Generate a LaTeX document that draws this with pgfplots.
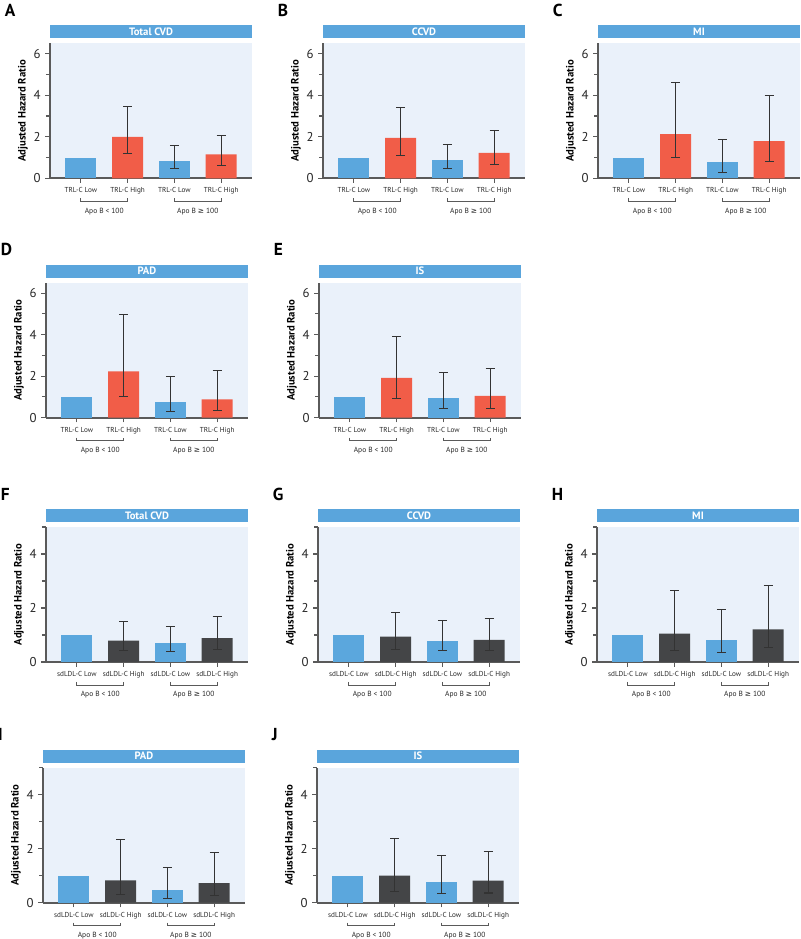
\documentclass[border=0pt]{standalone}
\usepackage{pgfplots}
\pgfplotsset{compat=1.18}
\usepackage{pgfplotstable}
\usepackage{fontspec}
\setmainfont{PT Sans}
\newfontfamily\symf{DejaVu Sans}
\definecolor{barblue}{HTML}{5BA7DD}
\definecolor{barred}{HTML}{F15D48}
\definecolor{bargray}{HTML}{444547}
\definecolor{bgblue}{HTML}{EAF1FA}
\definecolor{titleblue}{HTML}{5AA5DC}
\definecolor{axgray}{HTML}{5A5A5A}
\definecolor{errgray}{HTML}{333333}

% rows: first row = blue bar at x=2, then high bars at x=1 and x=3
\pgfplotstableread{
x y lo hi
2 0.85 0.46 1.57
1 2.00 1.20 3.44
3 1.15 0.64 2.08
}\dataA
\pgfplotstableread{
x y lo hi
2 0.88 0.48 1.65
1 1.95 1.12 3.42
3 1.22 0.66 2.30
}\dataB
\pgfplotstableread{
x y lo hi
2 0.77 0.30 1.87
1 2.13 0.99 4.61
3 1.79 0.80 4.00
}\dataC
\pgfplotstableread{
x y lo hi
2 0.77 0.29 1.96
1 2.23 1.00 4.98
3 0.88 0.35 2.28
}\dataD
\pgfplotstableread{
x y lo hi
2 0.96 0.42 2.19
1 1.91 0.93 3.89
3 1.05 0.45 2.35
}\dataE
\pgfplotstableread{
x y lo hi
2 0.69 0.38 1.31
1 0.79 0.42 1.49
3 0.88 0.47 1.68
}\dataF
\pgfplotstableread{
x y lo hi
2 0.79 0.42 1.55
1 0.94 0.48 1.85
3 0.82 0.42 1.62
}\dataG
\pgfplotstableread{
x y lo hi
2 0.82 0.35 1.96
1 1.05 0.43 2.64
3 1.21 0.53 2.82
}\dataH
\pgfplotstableread{
x y lo hi
2 0.48 0.16 1.30
1 0.83 0.31 2.33
3 0.73 0.28 1.87
}\dataI
\pgfplotstableread{
x y lo hi
2 0.76 0.33 1.75
1 1.00 0.43 2.39
3 0.82 0.36 1.90
}\dataJ

\pgfplotsset{
  panelbase/.style={
    scale only axis, width=151.5pt, height=101.25pt,
    anchor=south west,
    xmin=-0.66, xmax=3.66, ymin=0,
    axis lines*=left,
    axis line style={draw=axgray, line width=1.4pt},
    axis background/.style={fill=bgblue},
    tick align=outside,
    tick style={draw=axgray, line width=0.8pt},
    major tick length=3.5pt, minor tick length=3pt,
    xtick={0,1,2,3},
    ylabel={Adjusted Hazard Ratio},
    ylabel style={font=\fontsize{8}{9}\selectfont\bfseries, at={(axis description cs:-0.134,0.5)}, anchor=center},
    yticklabel style={font=\fontsize{9.6}{10}\selectfont, text=black!85},
    xticklabel style={font=\fontsize{5.4}{6}\selectfont, text=black!85},
    /pgf/number format/assume math mode=true,
    clip=false,
    ybar, bar width=23.25pt, bar shift=0pt,
  },
  toprow/.style={panelbase, ymax=6.5, ytick={0,2,4,6}, minor ytick={1,3,5},
    xticklabels={TRL-C Low, TRL-C High, TRL-C Low, TRL-C High}},
  botrow/.style={panelbase, ymax=5, ytick={0,2,4}, minor ytick={1,3,5},
    xticklabels={sdLDL-C Low, sdLDL-C High, sdLDL-C Low, sdLDL-C High}},
  eb/.style={
    /pgfplots/error bars/y dir=both,
    /pgfplots/error bars/y explicit,
    /pgfplots/error bars/error bar style={line width=0.8pt, draw=errgray},
    /pgfplots/error bars/error mark options={rotate=90, mark size=3.4pt, line width=0.8pt, draw=errgray},
  },
}

\newcommand{\deco}[2]{%
  \fill[titleblue] ([yshift=3.75pt]rel axis cs:0,1) rectangle ([yshift=13.5pt]rel axis cs:1,1);
  \node[font=\fontsize{8}{9}\selectfont\bfseries, text=white, inner sep=0pt] at ([yshift=8.6pt]rel axis cs:0.5,1) {#1};
  \node[font=\fontsize{13}{14}\selectfont\bfseries, anchor=north west, inner sep=0pt] at ([xshift=-34pt,yshift=29.5pt]rel axis cs:0,1) {#2};
  \draw[axgray, line width=0.6pt] ([yshift=-15pt]axis cs:0,0) -- ([yshift=-17.25pt]axis cs:0,0) -- ([yshift=-17.25pt]axis cs:1,0) -- ([yshift=-15pt]axis cs:1,0);
  \draw[axgray, line width=0.6pt] ([yshift=-15pt]axis cs:2,0) -- ([yshift=-17.25pt]axis cs:2,0) -- ([yshift=-17.25pt]axis cs:3,0) -- ([yshift=-15pt]axis cs:3,0);
  \node[font=\fontsize{5.6}{6}\selectfont, text=black!85] at ([yshift=-24.75pt]axis cs:0.5,0) {Apo B < 100};
  \node[font=\fontsize{5.6}{6}\selectfont, text=black!85] at ([yshift=-24.75pt]axis cs:2.5,0) {Apo B {\symf ≥} 100};
}

\newcommand{\panel}[6]{%
  \begin{axis}[#2, at={#1}]
    \addplot[fill=barblue, draw=none] coordinates {(0,1)};
    \addplot[fill=barblue, draw=none, skip coords between index={1}{3}, eb]
      table[x=x, y=y, y error plus expr=\thisrow{hi}-\thisrow{y}, y error minus expr=\thisrow{y}-\thisrow{lo}] {#5};
    \addplot[fill=#6, draw=none, skip coords between index={0}{1}, eb]
      table[x=x, y=y, y error plus expr=\thisrow{hi}-\thisrow{y}, y error minus expr=\thisrow{y}-\thisrow{lo}] {#5};
    \deco{#4}{#3}
  \end{axis}%
}

\begin{document}
\begin{tikzpicture}
\path[use as bounding box] (0,0) rectangle (600pt,704.25pt);
\panel{(37.5pt,570.5pt)}{toprow}{A}{Total CVD}{\dataA}{barred}
\panel{(242.25pt,570.5pt)}{toprow}{B}{CCVD}{\dataB}{barred}
\panel{(448.5pt,570.5pt)}{toprow}{C}{MI}{\dataC}{barred}
\panel{(34.5pt,391pt)}{toprow}{D}{PAD}{\dataD}{barred}
\panel{(239.25pt,391pt)}{toprow}{E}{IS}{\dataE}{barred}
\panel{(34.5pt,207.75pt)}{botrow}{F}{Total CVD}{\dataF}{bargray}
\panel{(238.5pt,207.75pt)}{botrow}{G}{CCVD}{\dataG}{bargray}
\panel{(447.75pt,207.75pt)}{botrow}{H}{MI}{\dataH}{bargray}
\panel{(32.25pt,27.2pt)}{botrow}{I}{PAD}{\dataI}{bargray}
\panel{(237.75pt,27.2pt)}{botrow}{J}{IS}{\dataJ}{bargray}
\end{tikzpicture}
\end{document}
